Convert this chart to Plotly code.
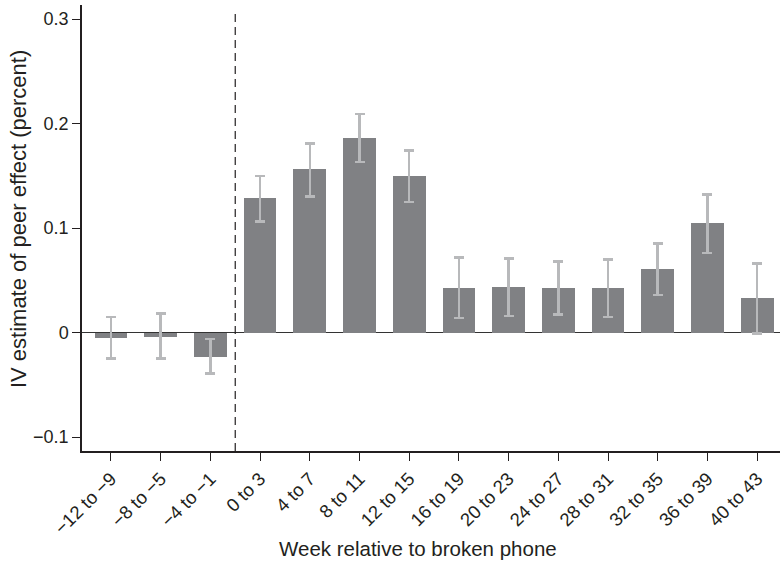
import plotly.graph_objects as go

# Week bins relative to the broken-phone event
weeks = ["−12 to −9", "−8 to −5", "−4 to −1", "0 to 3", "4 to 7", "8 to 11",
         "12 to 15", "16 to 19", "20 to 23", "24 to 27", "28 to 31",
         "32 to 35", "36 to 39", "40 to 43"]

# IV point estimates (percent) and confidence bounds
estimate = [-0.005, -0.004, -0.023, 0.129, 0.156, 0.186, 0.150,
            0.043, 0.044, 0.043, 0.043, 0.061, 0.105, 0.033]
ci_upper = [0.015, 0.018, -0.006, 0.150, 0.181, 0.209, 0.174,
            0.072, 0.071, 0.068, 0.070, 0.085, 0.132, 0.066]
ci_lower = [-0.025, -0.025, -0.039, 0.106, 0.130, 0.163, 0.125,
            0.014, 0.016, 0.017, 0.015, 0.036, 0.076, -0.001]

y_ticks = [-0.1, 0, 0.1, 0.2, 0.3]
y_tick_text = ["−0.1", "0", "0.1", "0.2", "0.3"]

err_plus = [u - e for u, e in zip(ci_upper, estimate)]
err_minus = [e - l for e, l in zip(estimate, ci_lower)]

FONT = "Liberation Sans, Arial, Helvetica, sans-serif"
INK = "#231f20"

fig = go.Figure(
    go.Bar(
        x=list(range(len(weeks))),
        y=estimate,
        width=0.66,
        marker=dict(color="#808184", line=dict(width=0)),
        error_y=dict(type="data", symmetric=False, array=err_plus,
                     arrayminus=err_minus, color="#b8b9bb",
                     thickness=2.5, width=5),
    )
)

# Dashed separator between pre- and post-event weeks
fig.add_shape(type="line", xref="x", yref="paper", x0=2.5, x1=2.5,
              y0=0, y1=0.984,
              line=dict(color=INK, width=1.2, dash="8px,5px"))

fig.update_layout(
    width=780, height=561,
    margin=dict(l=82, r=0, t=5, b=110),
    plot_bgcolor="white", paper_bgcolor="white",
    showlegend=False,
    font=dict(family=FONT, color=INK),
    bargap=0,
)

fig.update_xaxes(
    range=[-0.583, 13.46],
    tickmode="array", tickvals=list(range(len(weeks))), ticktext=weeks,
    tickangle=-45, tickfont=dict(size=18.5, family=FONT, color=INK),
    ticks="outside", ticklen=8, tickwidth=1.2, tickcolor=INK,
    showline=True, linecolor=INK, linewidth=1.5,
    showgrid=False, zeroline=False,
)

fig.update_yaxes(
    range=[-0.1134, 0.3134],
    tickmode="array", tickvals=y_ticks, ticktext=y_tick_text,
    tickfont=dict(size=18, family=FONT, color=INK),
    ticks="outside", ticklen=8, tickwidth=1.2, tickcolor=INK,
    showline=True, linecolor=INK, linewidth=1.5,
    showgrid=False,
    zeroline=True, zerolinecolor="#333333", zerolinewidth=1.2,
)

fig.add_annotation(
    text="Week relative to broken phone", xref="paper", yref="paper",
    x=0.481, y=-0.2175, xanchor="center", yanchor="middle",
    showarrow=False, font=dict(size=20.5, family=FONT, color=INK),
)
fig.add_annotation(
    text="IV estimate of peer effect (percent)", xref="paper", yref="paper",
    x=-0.0917, y=0.520, xanchor="center", yanchor="middle", textangle=-90,
    showarrow=False, font=dict(size=22, family=FONT, color=INK),
)

fig.write_html("out.html")
